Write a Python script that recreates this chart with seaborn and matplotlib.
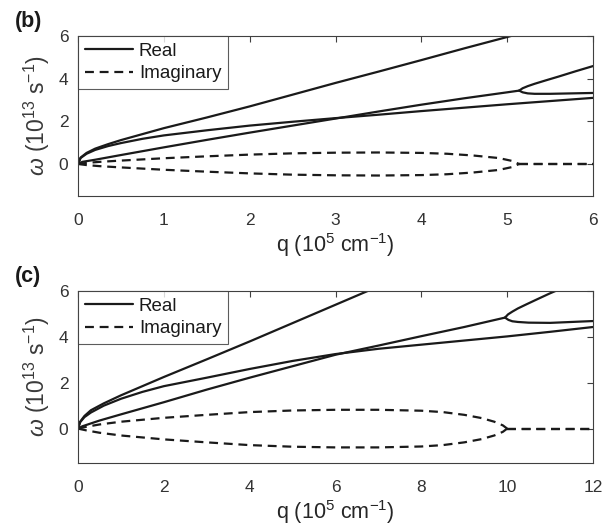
import matplotlib
matplotlib.use("Agg")
import matplotlib.pyplot as plt
import seaborn as sns
import pandas as pd
from matplotlib.lines import Line2D

# ---------------- data: panel (b) ----------------
b_A_q = [0, 0.03, 0.1, 0.2, 0.35, 0.5, 0.75, 1.0, 1.5, 2.0, 2.5, 3.0, 3.5, 4.0, 4.5, 5.1]
b_A_w = [0, 0.3, 0.52, 0.72, 0.93, 1.12, 1.4, 1.68, 2.18, 2.7, 3.25, 3.8, 4.33, 4.87, 5.42, 6.06]
b_B_q = [0, 0.03, 0.1, 0.2, 0.35, 0.5, 0.75, 1.0, 1.5, 2.0, 2.5, 3.0, 3.5, 4.0, 4.5, 5.0, 5.5, 6.0]
b_B_w = [0, 0.28, 0.48, 0.66, 0.84, 0.98, 1.18, 1.34, 1.58, 1.8, 1.98, 2.15, 2.31, 2.48, 2.64, 2.8, 2.95, 3.1]
b_C_q = [0, 0.05, 0.2, 0.5, 1.0, 1.5, 2.0, 2.5, 3.0, 3.5, 4.0, 4.5, 5.0, 5.14]
b_C_w = [0, 0.1, 0.2, 0.42, 0.78, 1.13, 1.47, 1.8, 2.13, 2.46, 2.78, 3.08, 3.36, 3.44]
b_up_q = [5.14, 5.18, 5.24, 5.32, 5.45, 5.6, 5.8, 6.0]
b_up_w = [3.44, 3.55, 3.65, 3.76, 3.92, 4.1, 4.35, 4.59]
b_lo_q = [5.14, 5.18, 5.24, 5.32, 5.5, 5.75, 6.0]
b_lo_w = [3.44, 3.36, 3.31, 3.29, 3.29, 3.31, 3.33]
b_im_q = [0, 0.1, 0.25, 0.5, 1.0, 1.5, 2.0, 2.5, 3.0, 3.5, 4.0, 4.3, 4.6, 4.9, 5.05, 5.14]
b_im_w = [0, 0.05, 0.1, 0.16, 0.27, 0.36, 0.44, 0.5, 0.53, 0.54, 0.52, 0.48, 0.4, 0.28, 0.15, 0]
b_im0_q = [5.14, 6.0]
b_im0_w = [0, 0]

# ---------------- data: panel (c) ----------------
c_A_q = [0, 0.05, 0.15, 0.3, 0.6, 1.0, 1.5, 2.0, 3.0, 4.0, 5.0, 6.0, 6.85]
c_A_w = [0, 0.3, 0.55, 0.8, 1.1, 1.45, 1.85, 2.25, 3.02, 3.8, 4.6, 5.4, 6.08]
c_B_q = [0, 0.05, 0.15, 0.3, 0.6, 1.0, 1.5, 2.0, 3.0, 4.0, 5.0, 6.0, 7.0, 8.0, 9.0, 10.0, 11.0, 12.0]
c_B_w = [0, 0.28, 0.5, 0.7, 1.0, 1.3, 1.6, 1.85, 2.22, 2.6, 2.95, 3.25, 3.48, 3.66, 3.84, 4.02, 4.22, 4.43]
c_C_q = [0, 0.1, 0.5, 1.0, 2.0, 3.0, 4.0, 5.0, 6.0, 7.0, 8.0, 9.0, 9.95]
c_C_w = [0, 0.1, 0.35, 0.62, 1.15, 1.7, 2.22, 2.72, 3.22, 3.62, 4.03, 4.43, 4.84]
c_up_q = [9.95, 10.02, 10.12, 10.25, 10.45, 10.7, 11.0, 11.25]
c_up_w = [4.84, 4.98, 5.1, 5.24, 5.42, 5.64, 5.9, 6.1]
c_lo_q = [9.95, 10.03, 10.12, 10.25, 10.5, 11.0, 11.5, 12.0]
c_lo_w = [4.84, 4.74, 4.68, 4.65, 4.62, 4.61, 4.65, 4.69]
c_im_q = [0, 0.2, 0.5, 1.0, 2.0, 3.0, 4.0, 5.0, 6.0, 7.0, 8.0, 8.5, 9.0, 9.4, 9.7, 9.9, 10.0]
c_im_w = [0, 0.08, 0.18, 0.3, 0.47, 0.6, 0.72, 0.79, 0.82, 0.82, 0.78, 0.72, 0.6, 0.46, 0.3, 0.14, 0]
c_im0_q = [10.0, 12.0]
c_im0_w = [0, 0]

x_ticks_b = [0, 1, 2, 3, 4, 5, 6]
x_ticks_c = [0, 2, 4, 6, 8, 10, 12]
y_ticks = [0, 2, 4, 6]
legend_labels = ["Real", "Imaginary"]
panel_labels = ["(b)", "(c)"]

sns.set_theme(style="white")
plt.rcParams['font.family'] = ['Liberation Sans', 'DejaVu Sans']
plt.rcParams['mathtext.fontset'] = 'custom'
plt.rcParams['mathtext.rm'] = 'Liberation Sans'
plt.rcParams['mathtext.it'] = 'Liberation Sans:italic'

fig = plt.figure(figsize=(6.09, 5.30), dpi=100)
W, H = 609, 530
ax_b = fig.add_axes([78 / W, 1 - 196 / H, 515 / W, 160 / H])
ax_c = fig.add_axes([78 / W, 1 - 463 / H, 515 / W, 172 / H])

LC = '#1a1a1a'
AX = '#404040'
LW = 1.6
DASH = (0, (4, 2.6))


def draw(ax, real, imag):
    for q, w in real:
        sns.lineplot(x=q, y=w, ax=ax, color=LC, lw=LW, sort=False, estimator=None)
    for q, w in imag:
        sns.lineplot(x=q, y=w, ax=ax, color=LC, lw=LW, sort=False, estimator=None,
                     linestyle=DASH)
        sns.lineplot(x=q, y=[-v for v in w], ax=ax, color=LC, lw=LW, sort=False,
                     estimator=None, linestyle=DASH)


draw(ax_b,
     [(b_A_q, b_A_w), (b_B_q, b_B_w), (b_C_q, b_C_w), (b_up_q, b_up_w), (b_lo_q, b_lo_w)],
     [(b_im_q, b_im_w), (b_im0_q, b_im0_w)])
draw(ax_c,
     [(c_A_q, c_A_w), (c_B_q, c_B_w), (c_C_q, c_C_w), (c_up_q, c_up_w), (c_lo_q, c_lo_w)],
     [(c_im_q, c_im_w), (c_im0_q, c_im0_w)])

for ax, xt, xmax, plab in [(ax_b, x_ticks_b, 6, panel_labels[0]),
                           (ax_c, x_ticks_c, 12, panel_labels[1])]:
    ax.set_xlim(0, xmax)
    ax.set_ylim(-1.5, 6)
    ax.set_xticks(xt)
    ax.set_yticks(y_ticks)
    ax.tick_params(direction='in', length=4, width=0.8, colors=AX, labelsize=12.5,
                   top=True, right=True, labelcolor='#333333')
    ax.tick_params(axis='x', pad=12)
    ax.tick_params(axis='y', pad=7)
    for s in ax.spines.values():
        s.set_visible(True)
        s.set_color(AX)
        s.set_linewidth(0.8)
    ax.set_xlabel(r"q (10$^{5}$ cm$^{-1}$)", fontsize=15.5, color='#262626', labelpad=2.5)
    ax.set_ylabel(r"$\omega$ (10$^{13}$ s$^{-1}$)", fontsize=16.5, color='#3a3a3a', labelpad=5)
    handles = [Line2D([], [], color=LC, lw=LW),
               Line2D([], [], color=LC, lw=LW, linestyle=DASH)]
    leg = ax.legend(handles, legend_labels, loc='upper left', borderaxespad=0,
                    fancybox=False, frameon=True, fontsize=13.5, handlelength=2.6,
                    handletextpad=0.3, labelspacing=0.3, borderpad=0.35)
    leg.get_frame().set_edgecolor('#333333')
    leg.get_frame().set_linewidth(0.8)
    for t in leg.get_texts():
        t.set_color('#1a1a1a')
    pos = ax.get_position()
    fig.text(15 / W, pos.y1 + 0.008, plab, fontsize=15.5, fontweight='bold', color='#1a1a1a',
             ha='left', va='bottom')

fig.savefig("out.png", dpi=100)
